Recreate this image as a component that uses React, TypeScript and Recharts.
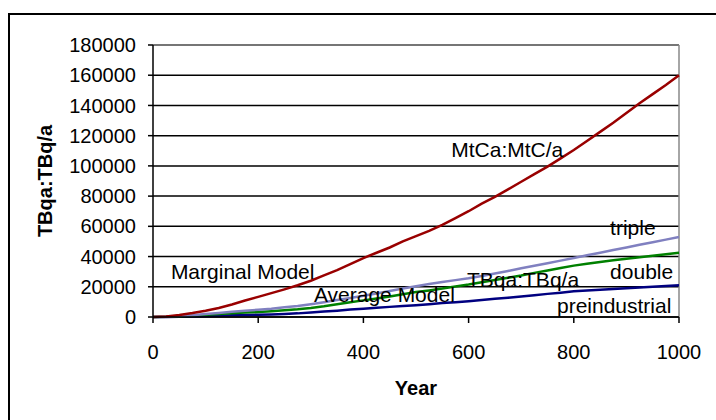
import { LineChart, Line, XAxis, YAxis, CartesianGrid, ReferenceLine, ReferenceDot } from 'recharts';

const years = [
  0, 25, 50, 75, 100, 125, 150, 175, 200, 225, 250, 275, 300, 325, 350, 375, 400, 425, 450, 475, 500,
  525, 550, 575, 600, 625, 650, 675, 700, 725, 750, 775, 800, 825, 850, 875, 900, 925, 950, 975, 1000,
];

const mtca = [
  0, 300, 1300, 2600, 4200, 6000, 8300, 10900, 13300, 15800, 18300, 21000, 24000, 27500, 31000, 35000, 39000, 42500, 46000, 50000, 53500,
  57000, 61000, 65500, 70000, 75000, 79500, 84500, 89500, 94500, 99500, 105000, 110500, 116500, 122500, 128500, 135000, 141500, 147500, 153500, 160000,
];
const triple = [
  0, 200, 600, 1200, 2000, 2700, 3400, 4100, 4800, 5500, 6400, 7300, 8500, 9800, 11200, 12600, 14000, 15600, 17200, 18800, 20400,
  21800, 23200, 24400, 25600, 27200, 28800, 30500, 32200, 33900, 35600, 37300, 39000, 40800, 42500, 44300, 46000, 47800, 49500, 51200, 53000,
];
const double = [
  0, 100, 400, 900, 1500, 2000, 2500, 2900, 3300, 3800, 4400, 5100, 6000, 7100, 8400, 9700, 11000, 12200, 13500, 15000, 16500,
  17600, 18800, 20200, 21500, 23000, 24500, 26000, 27500, 29200, 30800, 32400, 34000, 35200, 36400, 37500, 38600, 39600, 40600, 41600, 42500,
];
const preindustrial = [
  0, 0, 200, 400, 700, 900, 1100, 1300, 1500, 1700, 2000, 2400, 3000, 3600, 4200, 4900, 5500, 6100, 6700, 7200, 7800,
  8500, 9200, 9800, 10500, 11200, 12000, 12700, 13500, 14400, 15300, 16100, 17000, 17500, 18000, 18500, 19000, 19500, 20000, 20500, 21000,
];

const xTicks = [0, 200, 400, 600, 800, 1000];
const yTicks = [0, 20000, 40000, 60000, 80000, 100000, 120000, 140000, 160000, 180000];

// text notes placed in data coordinates (left edge, vertical centre)
const noteText = ['MtCa:MtC/a', 'Marginal Model', 'Average Model', 'TBqa:TBq/a', 'triple', 'double', 'preindustrial'];
const noteYear = [567, 34, 306, 597, 869, 869, 768];
const noteValue = [110500, 30400, 14600, 24500, 58900, 30400, 7900];

const data = years.map((y, i) => ({
  year: y,
  mtca: mtca[i],
  triple: triple[i],
  double: double[i],
  pre: preindustrial[i],
}));

const font = 'Arial, "Liberation Sans", sans-serif';

export default function App() {
  return (
    <div style={{ position: 'absolute', left: 0, top: 0, width: 716, height: 420, overflow: 'hidden', background: '#fff', fontFamily: font }}>
      <div style={{ position: 'absolute', left: 8, top: 13, width: 730, height: 430, border: '2px solid #000' }} />
      <LineChart width={716} height={420} data={data} margin={{ top: 45, right: 37, left: 0, bottom: 17 }}
        style={{ position: 'absolute', left: 0, top: 0 }}>
        <CartesianGrid horizontal vertical={false} stroke="#000" strokeWidth={1.5} />
        <XAxis dataKey="year" type="number" domain={[0, 1000]} ticks={xTicks} height={86}
          tick={{ fontSize: 20, fill: '#000', fontFamily: font }} tickSize={6} tickMargin={22}
          axisLine={{ stroke: '#000', strokeWidth: 1.5 }} tickLine={{ stroke: '#000', strokeWidth: 1.5 }}
          label={{ value: 'Year', position: 'insideBottom', offset: 8, fontSize: 20, fontWeight: 'bold', fill: '#000', fontFamily: font }} />
        <YAxis type="number" domain={[0, 180000]} ticks={yTicks} width={153}
          tick={{ fontSize: 20, fill: '#000', fontFamily: font }} tickSize={5} tickMargin={12}
          axisLine={{ stroke: '#000', strokeWidth: 1.5 }} tickLine={{ stroke: '#000', strokeWidth: 1.5 }}
          label={{ value: 'TBqa:TBq/a', angle: -90, position: 'insideLeft', offset: 45, fontSize: 20, fontWeight: 'bold', fill: '#000', fontFamily: font, style: { textAnchor: 'middle' } }} />
        <ReferenceLine y={180000} stroke="#888" strokeWidth={1.5} />
        <ReferenceLine x={1000} stroke="#888" strokeWidth={1.5} />
        <Line dataKey="pre" type="linear" stroke="#000080" strokeWidth={2.5} dot={false} isAnimationActive={false} />
        <Line dataKey="double" type="linear" stroke="#008000" strokeWidth={2.5} dot={false} isAnimationActive={false} />
        <Line dataKey="triple" type="linear" stroke="#8080C0" strokeWidth={2.5} dot={false} isAnimationActive={false} />
        <Line dataKey="mtca" type="linear" stroke="#990000" strokeWidth={2.5} dot={false} isAnimationActive={false} />
        {noteText.map((t, i) => (
          <ReferenceDot key={t} x={noteYear[i]} y={noteValue[i]} r={0} stroke="none" fill="none"
            label={{ value: t, position: 'right', offset: 0, fontSize: 21, fill: '#000', fontFamily: font }} />
        ))}
      </LineChart>
    </div>
  );
}
